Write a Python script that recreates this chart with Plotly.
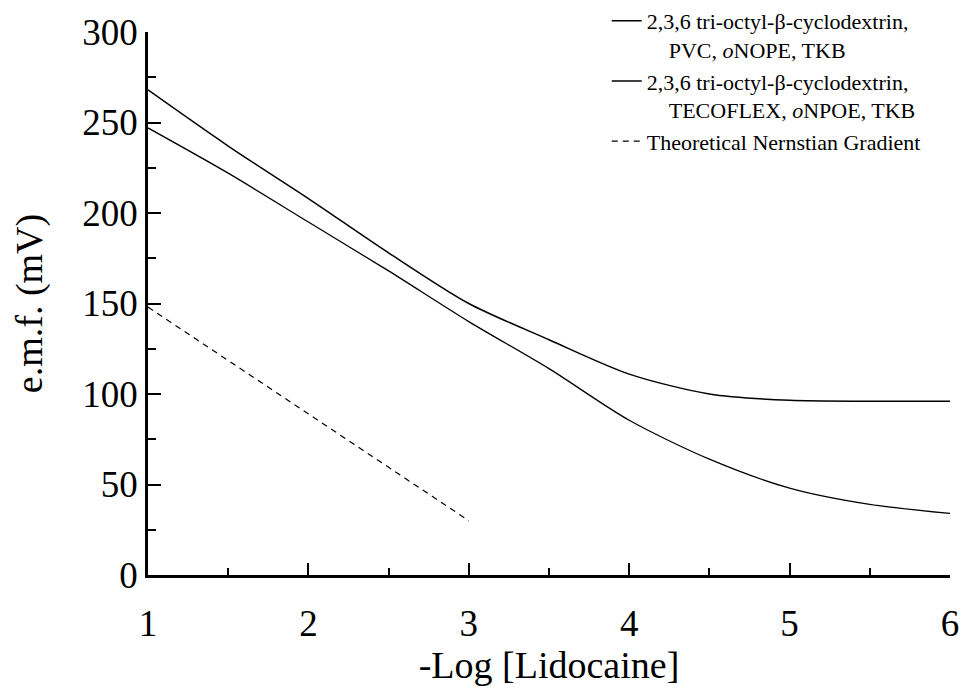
import plotly.graph_objects as go

# -Log[Lidocaine] values
log_conc = [1.0, 1.5, 2.0, 2.5, 3.0, 3.5, 4.0, 4.5, 5.0, 5.5, 6.0]

# e.m.f. responses (mV)
emf_pvc = [268, 237, 208, 178, 150, 130, 111, 100, 96.5, 96, 96]
emf_tecoflex = [247, 222, 195, 168, 140, 114, 85.5, 64, 48, 39, 34]

# Theoretical Nernstian response
nernst_x = [1.0, 3.0]
nernst_y = [148, 30]

names = [
    "2,3,6 tri-octyl-β-cyclodextrin,<br>\u00a0\u00a0\u00a0\u00a0PVC, <i>o</i>NOPE, TKB",
    "2,3,6 tri-octyl-β-cyclodextrin,<br>\u00a0\u00a0\u00a0\u00a0TECOFLEX, <i>o</i>NPOE, TKB",
    "Theoretical Nernstian Gradient",
]

x_ticks = [1, 2, 3, 4, 5, 6]
y_ticks = [0, 50, 100, 150, 200, 250, 300]

serif = "Liberation Serif, Times New Roman, serif"

fig = go.Figure()
fig.add_trace(go.Scatter(x=log_conc, y=emf_pvc, mode="lines", name=names[0],
                         line=dict(color="black", width=1.5, shape="spline", smoothing=0.8)))
fig.add_trace(go.Scatter(x=log_conc, y=emf_tecoflex, mode="lines", name=names[1],
                         line=dict(color="black", width=1.3, shape="spline", smoothing=0.8)))
fig.add_trace(go.Scatter(x=nernst_x, y=nernst_y, mode="lines", name=names[2],
                         line=dict(color="black", width=1.2, dash="6px,5px")))

# Plot area spans the full height above the x axis; the y axis occupies the
# lower part so the legend can sit in the top strip without resizing margins.
fig.update_layout(
    width=961, height=688,
    margin=dict(l=148, r=11, t=0, b=113),
    paper_bgcolor="white", plot_bgcolor="white",
    font=dict(family=serif, color="black"),
    showlegend=True,
    legend=dict(
        x=0.572, y=1.0, xanchor="left", yanchor="top",
        bgcolor="rgba(0,0,0,0)", font=dict(size=22, family=serif),
        valign="top", tracegroupgap=0,
    ),
)

fig.update_xaxes(
    range=[1, 6], tickvals=x_ticks, ticktext=[str(v) for v in x_ticks],
    showgrid=False, zeroline=False, showline=True, linecolor="black", linewidth=2.5,
    ticks="inside", ticklen=12, tickwidth=2, tickcolor="black",
    minor=dict(dtick=0.5, tick0=1, ticks="inside", ticklen=7, tickwidth=2, tickcolor="black"),
    tickfont=dict(size=37, family=serif), ticklabelstandoff=14,
    title=dict(text="-Log [Lidocaine]", font=dict(size=38, family=serif), standoff=4),
    automargin=False,
)
fig.update_yaxes(
    range=[0, 300], domain=[0, 543 / 575], tickvals=y_ticks, ticktext=[str(v) for v in y_ticks],
    showgrid=False, zeroline=False, showline=True, linecolor="black", linewidth=2.5,
    ticks="inside", ticklen=13, tickwidth=2, tickcolor="black",
    minor=dict(dtick=25, tick0=0, ticks="inside", ticklen=8, tickwidth=2, tickcolor="black"),
    tickfont=dict(size=37, family=serif),
    title=dict(text="e.m.f. (mV)", font=dict(size=38, family=serif), standoff=29),
    automargin=False,
)

fig.write_html("out.html")
